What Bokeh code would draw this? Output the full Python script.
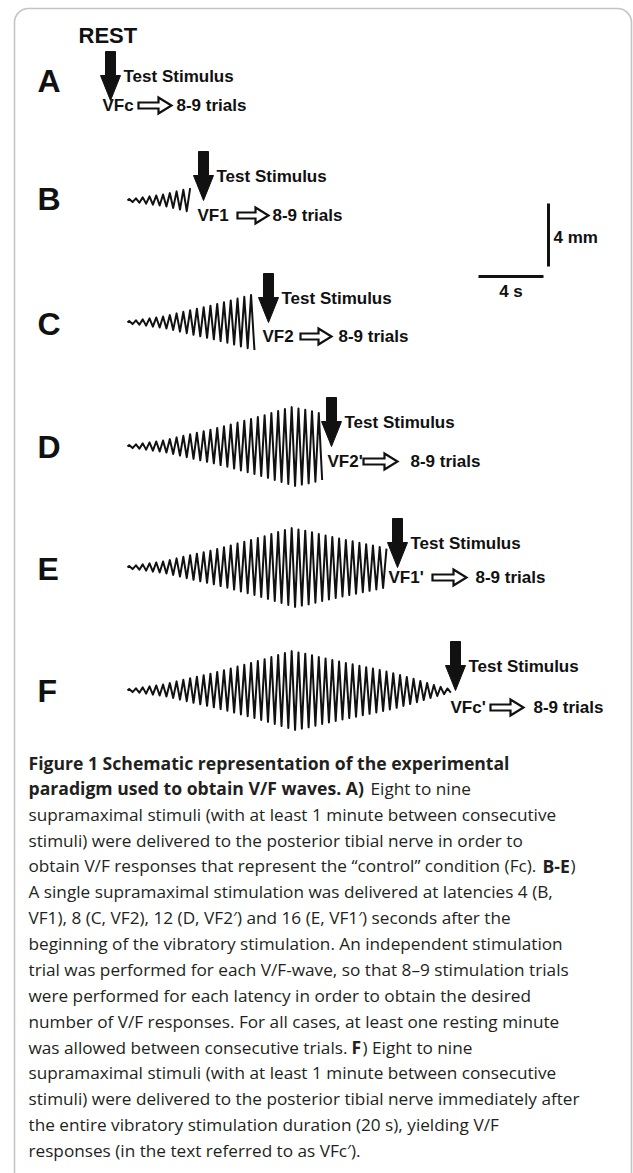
import numpy as np
from bokeh.plotting import figure
from bokeh.models import Range1d, BoxAnnotation
from bokeh.core.properties import value
from bokeh.embed import file_html
from bokeh.resources import INLINE

# ---------------- data ----------------
panel_letters = ["A", "B", "C", "D", "E", "F"]
latency_s = [0, 4, 8, 12, 16, 20]          # test stimulus time after vibration onset (A = rest)
response_labels = ["VFc", "VF1", "VF2", "VF2'", "VF1'", "VFc'"]
trials_label = "8-9 trials"
stim_label = "Test Stimulus"
rest_label = "REST"

vib_duration_s = 20
# half peak-to-peak amplitude (mm) of each vibration cycle
vib_amp_mm = [0.10, 0.14, 0.20, 0.26, 0.32, 0.38, 0.47, 0.58, 0.68, 0.78,
              0.88, 0.97, 1.07, 1.18, 1.28, 1.40, 1.52, 1.63, 1.75, 1.87,
              1.99, 2.12, 2.25, 2.38, 2.50, 2.42, 2.34, 2.24, 2.13, 2.03,
              1.93, 1.84, 1.75, 1.66, 1.57, 1.48, 1.39, 1.30, 1.20, 1.10,
              0.98, 0.86, 0.74, 0.61, 0.48, 0.35, 0.23, 0.13]

scale_time_s = 4
scale_amp_mm = 4
scale_time_label = "4 s"
scale_amp_label = "4 mm"

caption_lines = [
    [("Figure 1 Schematic representation of the experimental", True, 0)],
    [("paradigm used to obtain V/F waves. A)", True, 0), ("Eight to nine", False, 342)],
    [("supramaximal stimuli (with at least 1 minute between consecutive", False, 0)],
    [("stimuli) were delivered to the posterior tibial nerve in order to", False, 0)],
    [("obtain V/F responses that represent the \u201ccontrol\u201d condition (Fc).", False, 0),
     ("B-E", True, 514), (")", False, 542)],
    [("A single supramaximal stimulation was delivered at latencies 4 (B,", False, 0)],
    [("VF1), 8 (C, VF2), 12 (D, VF2\u2032) and 16 (E, VF1\u2032) seconds after the", False, 0)],
    [("beginning of the vibratory stimulation. An independent stimulation", False, 0)],
    [("trial was performed for each V/F-wave, so that 8\u20139 stimulation trials", False, 0)],
    [("were performed for each latency in order to obtain the desired", False, 0)],
    [("number of V/F responses. For all cases, at least one resting minute", False, 0)],
    [("was allowed between consecutive trials.", False, 0), ("F", True, 323), (") Eight to nine", False, 334)],
    [("supramaximal stimuli (with at least 1 minute between consecutive", False, 0)],
    [("stimuli) were delivered to the posterior tibial nerve immediately after", False, 0)],
    [("the entire vibratory stimulation duration (20 s), yielding V/F", False, 0)],
    [("responses (in the text referred to as VFc\u2032).", False, 0)],
]

# ---------------- layout (page pixels) ----------------
X0 = 127.0          # page x of vibration onset
PX_S = 16.25        # px per second
PX_MM = 15.75       # px per mm
ROW_Y = [100, 200, 322, 446, 567, 690]
LETTER_Y = [80, 198, 323, 446, 568, 690]
ARROW_DX = [-17, 11, 11, 9, 10, 3]
LABEL_DX = [-8, -6, -6, -4, -9, -5]
LABEL_DY = [5, 15, 14, 15, 10, 17]
HOLLOW_DX = [28, 34, 32, 32, 35, 35]
HOLLOW_LEN = [33, 31, 31, 34, 34, 33]
TRIALS_DX = [66, 69, 70, 79, 78, 78]

FIG_FONT = "Liberation Sans"
CAP_FONT = "Open Sans"
CAP_SIZE = "17.2px"
CAP_BOLD_SIZE = "17.6px"
CAP_X = 28
CAP_Y0 = 762
CAP_DY = 25.87
INK = "#111111"
CAP_INK = "#231f20"

W, H = 633, 1173
p = figure(width=W, height=H, output_backend="svg", toolbar_location=None,
           x_range=Range1d(0, W), y_range=Range1d(H, 0),
           x_axis_type=None, y_axis_type=None, min_border=0,
           background_fill_color="white", border_fill_color="white")
p.grid.visible = False
p.outline_line_color = None

# frame
p.add_layout(BoxAnnotation(left=14, right=631, top=8, bottom=1200, border_radius=14,
                           fill_alpha=0, line_color="#3a3a3a", line_width=1.6))

# vibration waveform peak list (time, signed amplitude)
n_cyc = len(vib_amp_mm)
period = vib_duration_s / n_cyc
pk_t = [0.0]
pk_v = [0.0]
for k, a in enumerate(vib_amp_mm):
    pk_t += [k * period + period / 4, k * period + 3 * period / 4]
    pk_v += [a, -a]
pk_t = np.array(pk_t)
pk_v = np.array(pk_v)

for i in range(1, 6):
    m = pk_t <= latency_s[i] + 1e-9
    xs = X0 + pk_t[m] * PX_S
    ys = ROW_Y[i] - pk_v[m] * PX_MM
    p.line(xs, ys, line_color=INK, line_width=2.0, line_join="round")

# arrows and annotations
dn_xs, dn_ys, ho_xs, ho_ys = [], [], [], []
t_x, t_y, t_s = [], [], []
for i in range(6):
    ax = X0 + latency_s[i] * PX_S + ARROW_DX[i]
    tip = ROW_Y[i]
    top = tip - 49
    hs = tip - 25
    dn_xs.append([ax - 5, ax + 5, ax + 5, ax + 10, ax, ax - 10, ax - 5])
    dn_ys.append([top, top, hs, hs, tip, hs, hs])
    ly = tip + LABEL_DY[i]
    hx0 = ax + HOLLOW_DX[i]
    hx1 = hx0 + HOLLOW_LEN[i]
    hh = hx1 - 13
    ho_xs.append([hx0, hh, hh, hx1, hh, hh, hx0])
    ho_ys.append([ly - 3, ly - 3, ly - 8, ly, ly + 8, ly + 3, ly + 3])
    t_x += [ax + 13, ax + LABEL_DX[i], ax + TRIALS_DX[i]]
    t_y += [tip - 24, ly, ly]
    t_s += [stim_label, response_labels[i], trials_label]

p.patches(dn_xs, dn_ys, fill_color=INK, line_color=INK, line_width=1)
p.patches(ho_xs, ho_ys, fill_color="white", line_color=INK, line_width=2.2, line_join="miter")

p.text(t_x, t_y, text=t_s, text_font=value(FIG_FONT), text_font_style="bold",
       text_font_size="17px", text_baseline="middle", text_align="left", text_color=INK)

# panel letters
p.text([37] * 6, LETTER_Y, text=panel_letters, text_font=value(FIG_FONT), text_font_style="bold",
       text_font_size="32px", text_baseline="middle", text_align="left", text_color=INK)
# REST
p.text([78], [35], text=[rest_label], text_font=value(FIG_FONT), text_font_style="bold",
       text_font_size="22px", text_baseline="middle", text_align="left", text_color=INK)

# scale bars
SB_X, SB_Y = 478, 276
p.segment(x0=[SB_X], y0=[SB_Y], x1=[SB_X + scale_time_s * PX_S], y1=[SB_Y],
          line_color=INK, line_width=3)
VX = 548
p.segment(x0=[VX], y0=[266], x1=[VX], y1=[266 - scale_amp_mm * PX_MM],
          line_color=INK, line_width=3)
p.text([SB_X + scale_time_s * PX_S / 2], [291], text=[scale_time_label], text_font=value(FIG_FONT),
       text_font_style="bold", text_font_size="17px", text_baseline="middle", text_align="center",
       text_color=INK)
p.text([VX + 5], [237], text=[scale_amp_label], text_font=value(FIG_FONT),
       text_font_style="bold", text_font_size="17px", text_baseline="middle", text_align="left",
       text_color=INK)

# caption
for style in (True, False):
    cx, cy, ct = [], [], []
    for li, segs in enumerate(caption_lines):
        for txt, bold, dx in segs:
            if bold == style:
                cx.append(CAP_X + dx)
                cy.append(CAP_Y0 + li * CAP_DY)
                ct.append(txt)
    p.text(cx, cy, text=ct, text_font=value(CAP_FONT), text_font_style="bold" if style else "normal",
           text_font_size=CAP_BOLD_SIZE if style else CAP_SIZE, text_baseline="middle",
           text_align="left", text_color=CAP_INK)

open("out.html", "w").write(file_html(p, INLINE))
